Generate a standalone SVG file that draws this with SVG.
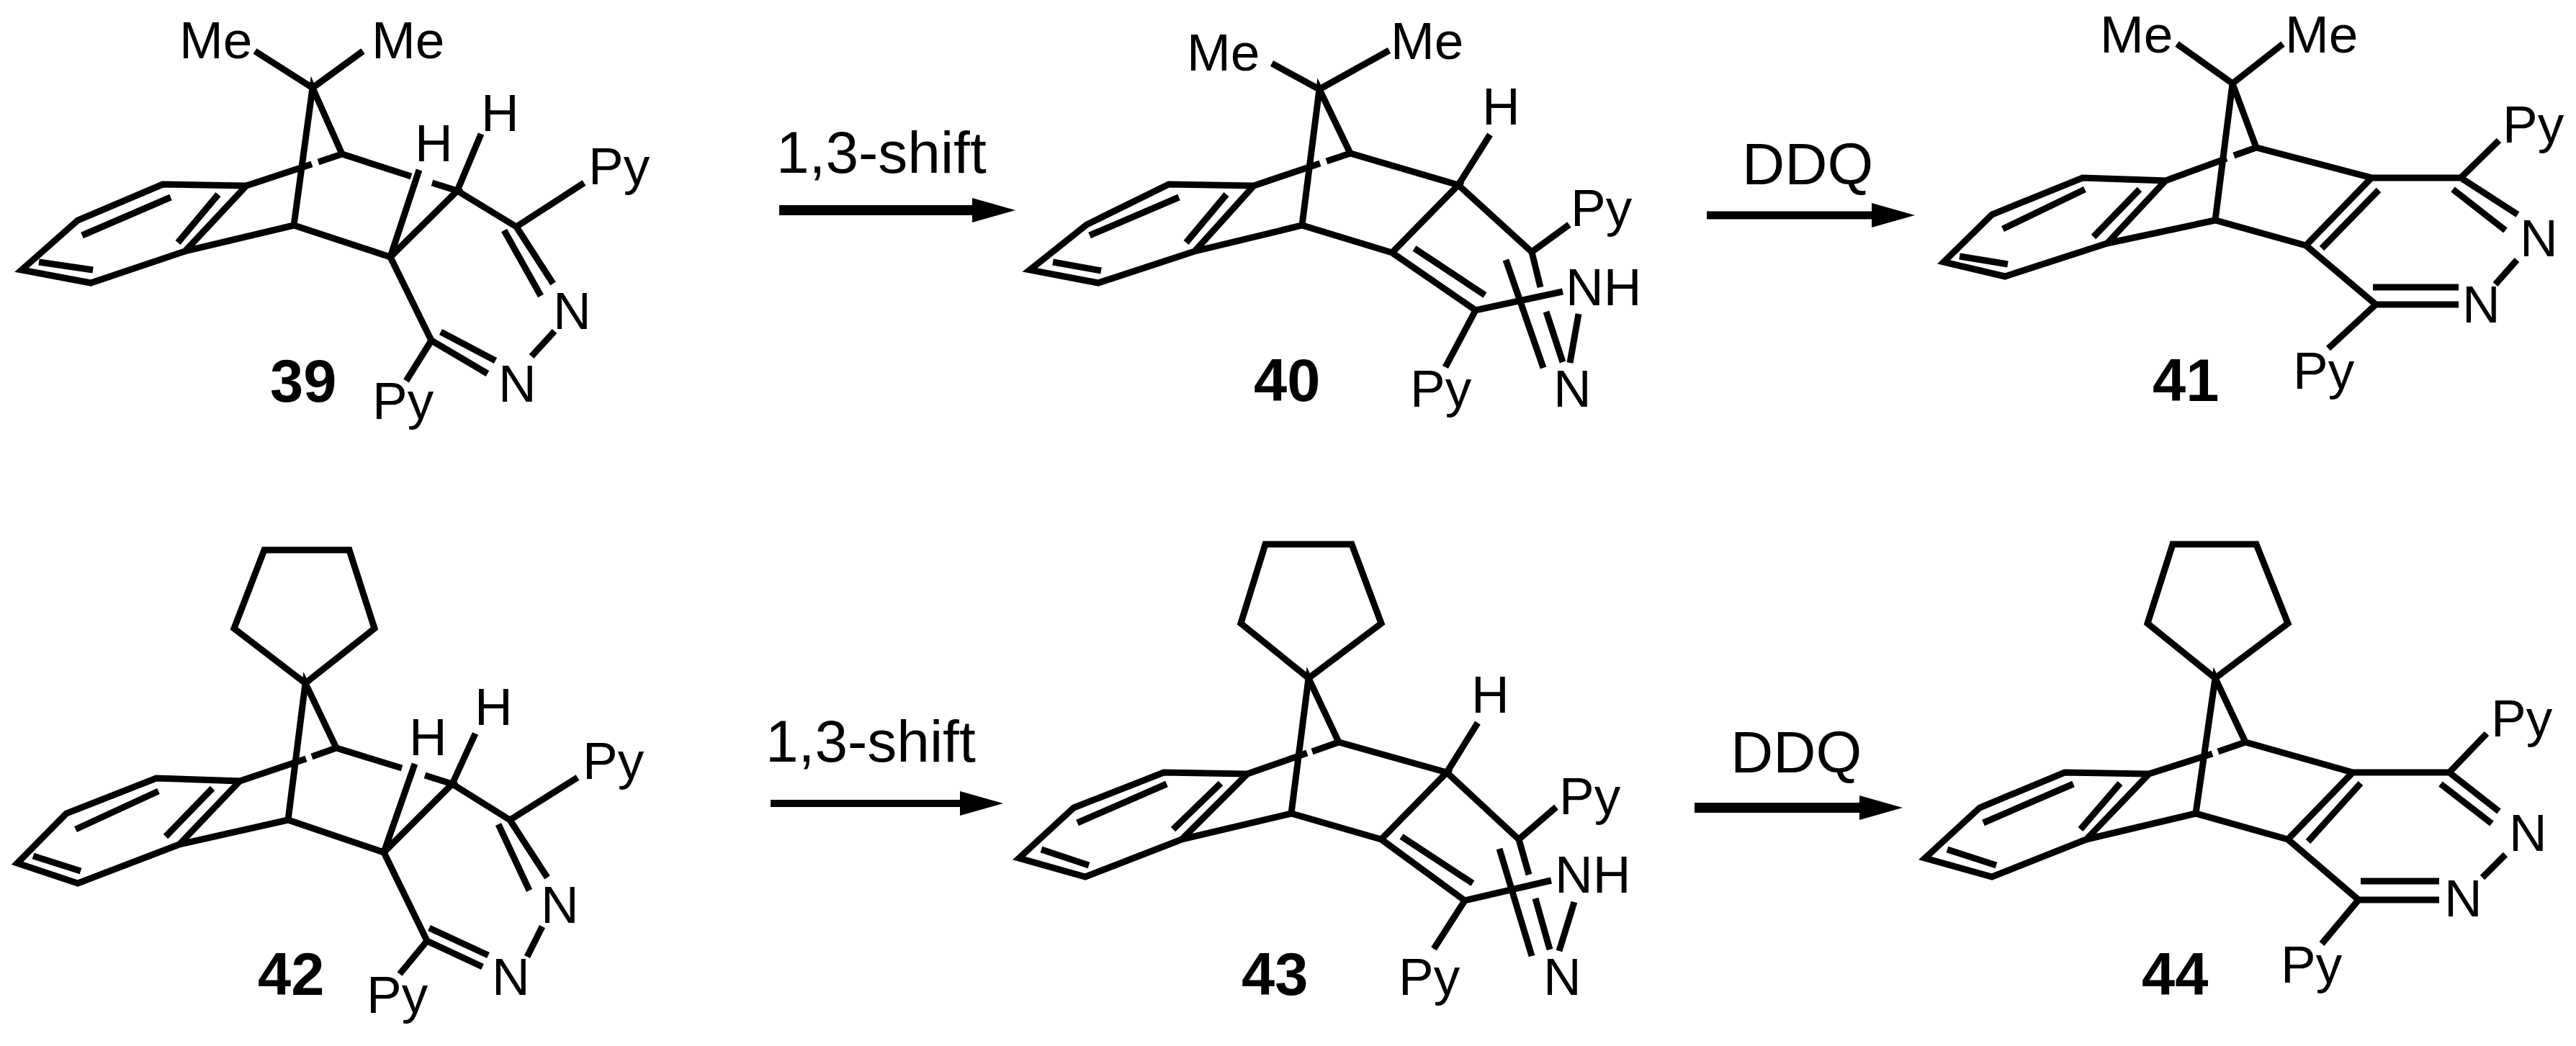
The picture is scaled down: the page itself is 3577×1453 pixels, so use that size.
<svg xmlns="http://www.w3.org/2000/svg" width="3577" height="1453" viewBox="0 0 3577 1453">
<style>
.b{fill:none;stroke:#000;stroke-width:9;stroke-linecap:butt;stroke-linejoin:miter}
.t{font-family:"Liberation Sans",Arial,sans-serif;font-size:73px;fill:#000}
.l{font-family:"Liberation Sans",Arial,sans-serif;font-size:82px;fill:#000}
.n{font-family:"Liberation Sans",Arial,sans-serif;font-size:83px;font-weight:bold;fill:#000}
.a{stroke:#000;fill:none}
</style>
<defs>
<marker id="h" markerUnits="userSpaceOnUse" markerWidth="60" markerHeight="34" refX="0" refY="17" orient="auto" viewBox="0 0 60 34"><path d="M0 0L60 17L0 34Z" fill="#000"/></marker>
</defs>
<rect width="3577" height="1453" fill="#fff"/>
<g id="m39">
<path class="b" d="M354 71L434 122L504 71M408 313L434 122L475 214M342 258L433 228M442 225L475 214L571 245M600 254L635 265L542 357L408 313L257 349L342 258L226 256L108 306L30 375L126 393L257 349M237 274L114 327M303 270L247 337M54 364L129 375M542 357L582 236M635 265L668 186M635 265L717 315L811 254M717 315L768 394M700 320L751 411M770 460L738 495M542 357L599 473L677 519M612 461L688 501M599 473L564 529"/>
<text class="t" x="249" y="81">Me</text><text class="t" x="516" y="81">Me</text><text class="t" x="576" y="224">H</text><text class="t" x="668" y="182">H</text><text class="t" x="817" y="256">Py</text><text class="t" x="768" y="457">N</text><text class="t" x="692" y="558">N</text><text class="t" x="517" y="582">Py</text><text class="n" x="375" y="558">39</text>
</g>
<g id="m40">
<path class="b" d="M1766 88L1832 124L1929 70M1808 313L1832 124L1875 213M1741 258L1833 227M1842 224L1875 213L2025 257L1933 351L1808 313L1659 349L1741 258L1623 256L1509 312L1430 375L1525 393L1659 349M1637 274L1513 327M1703 270L1647 337M1462 364L1529 376M2025 257L2069 187M2025 257L2127 350L2179 312M1933 351L2049 431L2170 405M1964 345L2062 410M2049 431L2007 510M2127 350L2139 399M2147 433L2170 503M2091 361L2143 511M2192 436L2180 504"/>
<text class="t" x="1648" y="98">Me</text><text class="t" x="1931" y="82">Me</text><text class="t" x="2058" y="173">H</text><text class="t" x="2181" y="314">Py</text><text class="t" x="2174" y="424">NH</text><text class="t" x="1958" y="565">Py</text><text class="t" x="2157" y="565">N</text><text class="n" x="1741" y="557">40</text>
</g>
<g id="m41">
<path class="b" d="M3023 61L3100 116L3170 61M3076 306L3100 116L3133 205M3007 251L3092 220M3102 216L3133 205L3293 247L3202 341L3076 306L2926 338L3007 251L2892 247L2766 298L2699 364L2784 384L2926 338M2895 263L2781 318M2971 263L2907 329M2721 356L2788 367M3303 264L3224 345M3293 247L3417 247L3470 195M3417 247L3496 298M3406 263L3479 320M3495 361L3465 395M3202 341L3299 423L3414 423M3295 399L3414 399M3299 423L3233 484"/>
<text class="t" x="2916" y="73">Me</text><text class="t" x="3173" y="73">Me</text><text class="t" x="3475" y="198">Py</text><text class="t" x="3499" y="356">N</text><text class="t" x="3419" y="448">N</text><text class="t" x="3184" y="540">Py</text><text class="n" x="2989" y="557">41</text>
</g>
<g id="m42">
<path class="b" d="M424 949L325 873L367 764L485 764L520 873Z"/>
<path class="b" d="M400 1139L424 949L467 1039M333 1085L425 1054M433 1051L467 1039L558 1067M590 1077L628 1089L533 1184L400 1139L249 1173L333 1085L217 1081L92 1130L24 1199L108 1227L249 1173M220 1099L105 1152M295 1095L230 1162M46 1189L112 1210M533 1184L576 1061M628 1089L660 1019M628 1089L708 1139L802 1080M708 1139L760 1219M692 1145L735 1237M753 1287L732 1329M533 1184L593 1307L670 1343M596 1289L678 1327M593 1307L555 1353"/>
<text class="t" x="568" y="1049">H</text><text class="t" x="659" y="1007">H</text><text class="t" x="809" y="1082">Py</text><text class="t" x="751" y="1282">N</text><text class="t" x="683" y="1382">N</text><text class="t" x="509" y="1407">Py</text><text class="n" x="358" y="1382">42</text>
</g>
<g id="m43">
<path class="b" d="M1817 942L1723 866L1757 756L1877 756L1918 866Z"/>
<path class="b" d="M1793 1130L1817 942L1859 1031M1732 1075L1815 1046M1822 1044L1859 1031L2009 1073L1918 1166L1793 1130L1641 1166L1732 1075L1616 1073L1491 1122L1415 1192L1507 1218L1641 1166M1620 1089L1496 1143M1695 1088L1629 1152M1446 1180L1512 1202M2009 1073L2052 1004M2009 1073L2109 1166L2161 1121M1918 1166L2034 1251L2154 1223M1946 1162L2045 1227M2034 1251L1991 1318M2109 1166L2123 1215M2132 1248L2152 1319M2082 1179L2127 1328M2186 1253L2165 1321"/>
<text class="t" x="2043" y="990">H</text><text class="t" x="2165" y="1131">Py</text><text class="t" x="2159" y="1240">NH</text><text class="t" x="1942" y="1382">Py</text><text class="t" x="2143" y="1382">N</text><text class="n" x="1724" y="1382">43</text>
</g>
<g id="m44">
<path class="b" d="M3076 942L2982 866L3017 756L3133 756L3177 866Z"/>
<path class="b" d="M3049 1130L3076 942L3118 1031M2984 1075L3072 1047M3080 1044L3118 1031L3267 1073L3177 1166L3049 1130L2897 1166L2984 1075L2867 1073L2749 1122L2673 1192L2766 1218L2897 1166M2879 1089L2754 1143M2944 1088L2889 1152M2704 1180L2772 1202M3278 1088L3205 1169M3267 1073L3401 1073L3453 1019M3401 1073L3470 1127M3389 1089L3460 1144M3479 1187L3447 1219M3177 1166L3275 1250L3387 1250M3278 1224L3387 1224M3275 1250L3224 1311"/>
<text class="t" x="3459" y="1023">Py</text><text class="t" x="3484" y="1182">N</text><text class="t" x="3394" y="1273">N</text><text class="t" x="3167" y="1365">Py</text><text class="n" x="2974" y="1382">44</text>
</g>
<g id="connectors">
<line class="a" x1="1082" y1="292" x2="1350" y2="292" stroke-width="14" marker-end="url(#h)"/>
<line class="a" x1="2370" y1="299" x2="2599" y2="299" stroke-width="11" marker-end="url(#h)"/>
<line class="a" x1="1070" y1="1116" x2="1333" y2="1116" stroke-width="10" marker-end="url(#h)"/>
<line class="a" x1="2353" y1="1122" x2="2582" y2="1122" stroke-width="14" marker-end="url(#h)"/>
</g>
<g id="labels">
<text class="l" x="1078" y="240">1,3-shift</text>
<text class="l" x="2419" y="256">DDQ</text>
<text class="l" x="1063" y="1058">1,3-shift</text>
<text class="l" x="2403" y="1073">DDQ</text>
</g>
</svg>
